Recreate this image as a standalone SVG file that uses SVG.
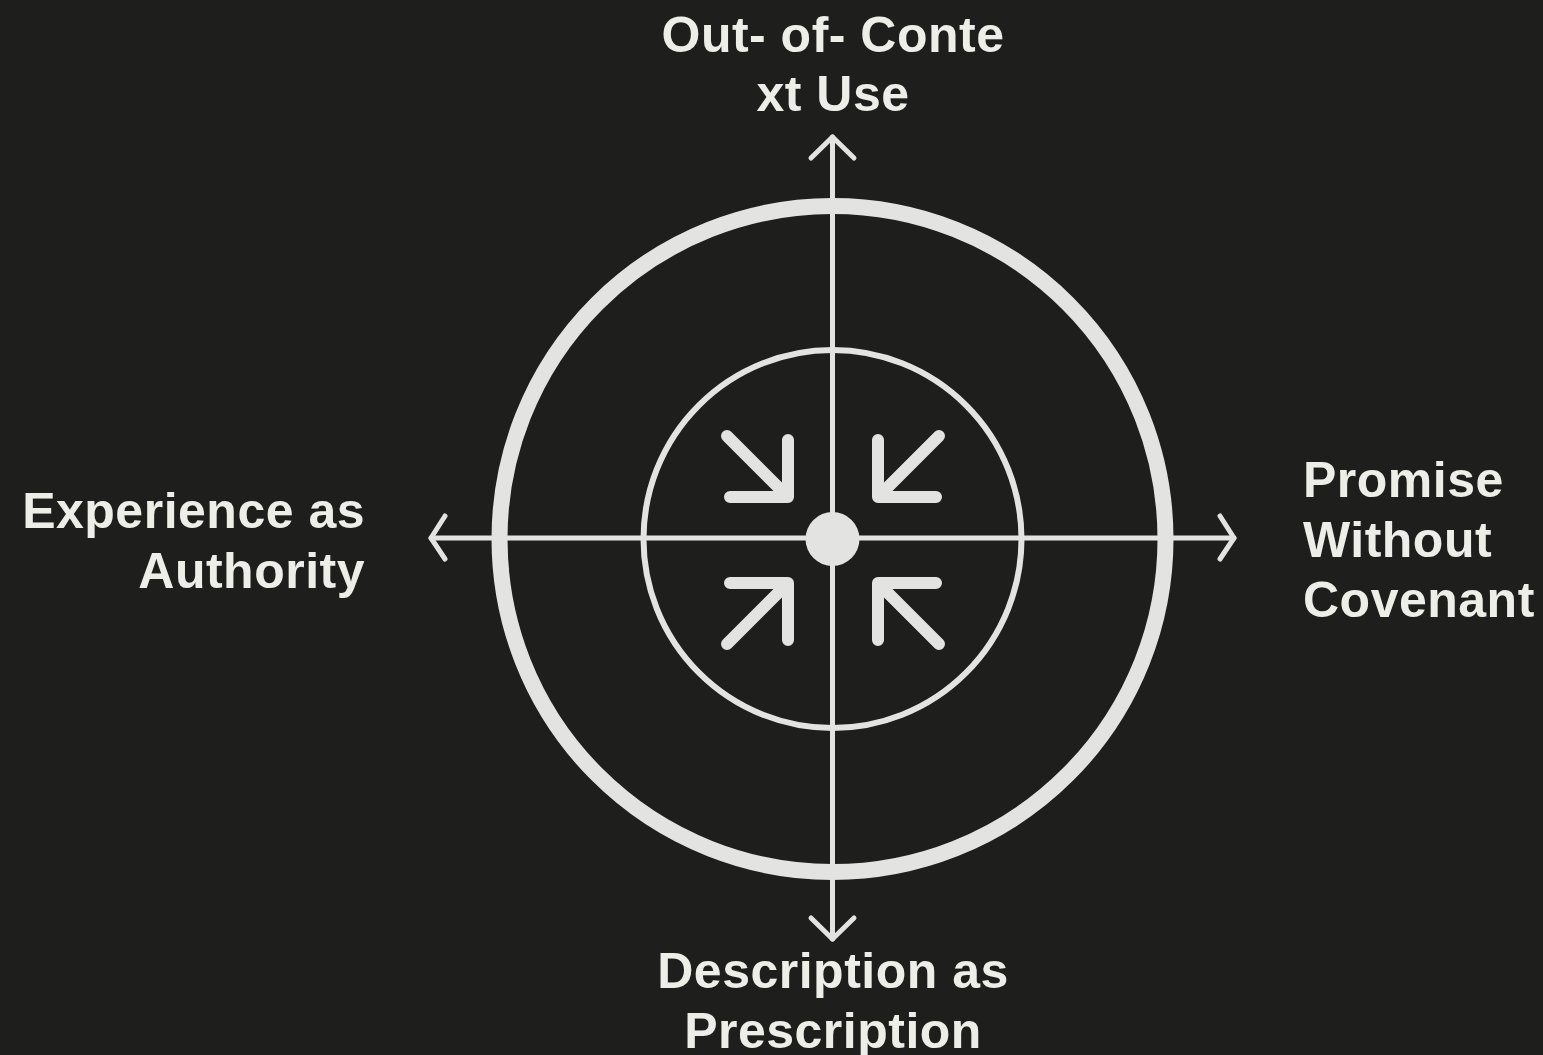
<svg xmlns="http://www.w3.org/2000/svg" width="1543" height="1055" viewBox="0 0 1543 1055">
<style>
.lbl{font-family:"Liberation Sans",Arial,sans-serif;font-weight:bold;font-size:50px;letter-spacing:0.5px;fill:#eeeee9}
.ax{stroke:#e3e3e1;stroke-width:5;fill:none;stroke-linecap:round;stroke-linejoin:round}
.ia{stroke:#e3e3e1;stroke-width:12;fill:none;stroke-linecap:round;stroke-linejoin:round}
</style>
<rect width="1543" height="1055" fill="#1e1e1c"/>
<g id="rings">
<circle cx="832.5" cy="539" r="333" fill="none" stroke="#e3e3e1" stroke-width="16"/>
<circle cx="832.5" cy="539" r="189" fill="none" stroke="#e3e3e1" stroke-width="6"/>
</g>
<g id="connectors">
<line class="ax" x1="832.5" y1="137" x2="832.5" y2="939"/>
<line class="ax" x1="431" y1="538" x2="1234" y2="538"/>
<polyline class="ax" points="811,158 832.5,137 854,158"/>
<polyline class="ax" points="811,918 832.5,939 854,918"/>
<polyline class="ax" points="445,516 431,538 445,559"/>
<polyline class="ax" points="1220,516 1234,538 1220,559"/>
</g>
<g id="center">
<circle cx="832.5" cy="539" r="27" fill="#e3e3e1"/>
<path class="ia" d="M727,436 L787,496 M788,440 V497 H730"/>
<path class="ia" d="M939,436 L879,496 M878,440 V497 H936"/>
<path class="ia" d="M727,644 L787,584 M788,640 V583 H730"/>
<path class="ia" d="M939,644 L879,584 M878,640 V583 H936"/>
</g>
<g id="node-top">
<text class="lbl" x="833" y="52" text-anchor="middle">Out- of- Conte</text>
<text class="lbl" x="833" y="111" text-anchor="middle">xt Use</text>
</g>
<g id="node-left">
<text class="lbl" x="365" y="528" text-anchor="end">Experience as</text>
<text class="lbl" x="365" y="588" text-anchor="end">Authority</text>
</g>
<g id="node-right">
<text class="lbl" x="1303" y="497">Promise</text>
<text class="lbl" x="1303" y="557">Without</text>
<text class="lbl" x="1303" y="617">Covenant</text>
</g>
<g id="node-bottom">
<text class="lbl" x="833" y="988" text-anchor="middle">Description as</text>
<text class="lbl" x="833" y="1048" text-anchor="middle">Prescription</text>
</g>
</svg>
